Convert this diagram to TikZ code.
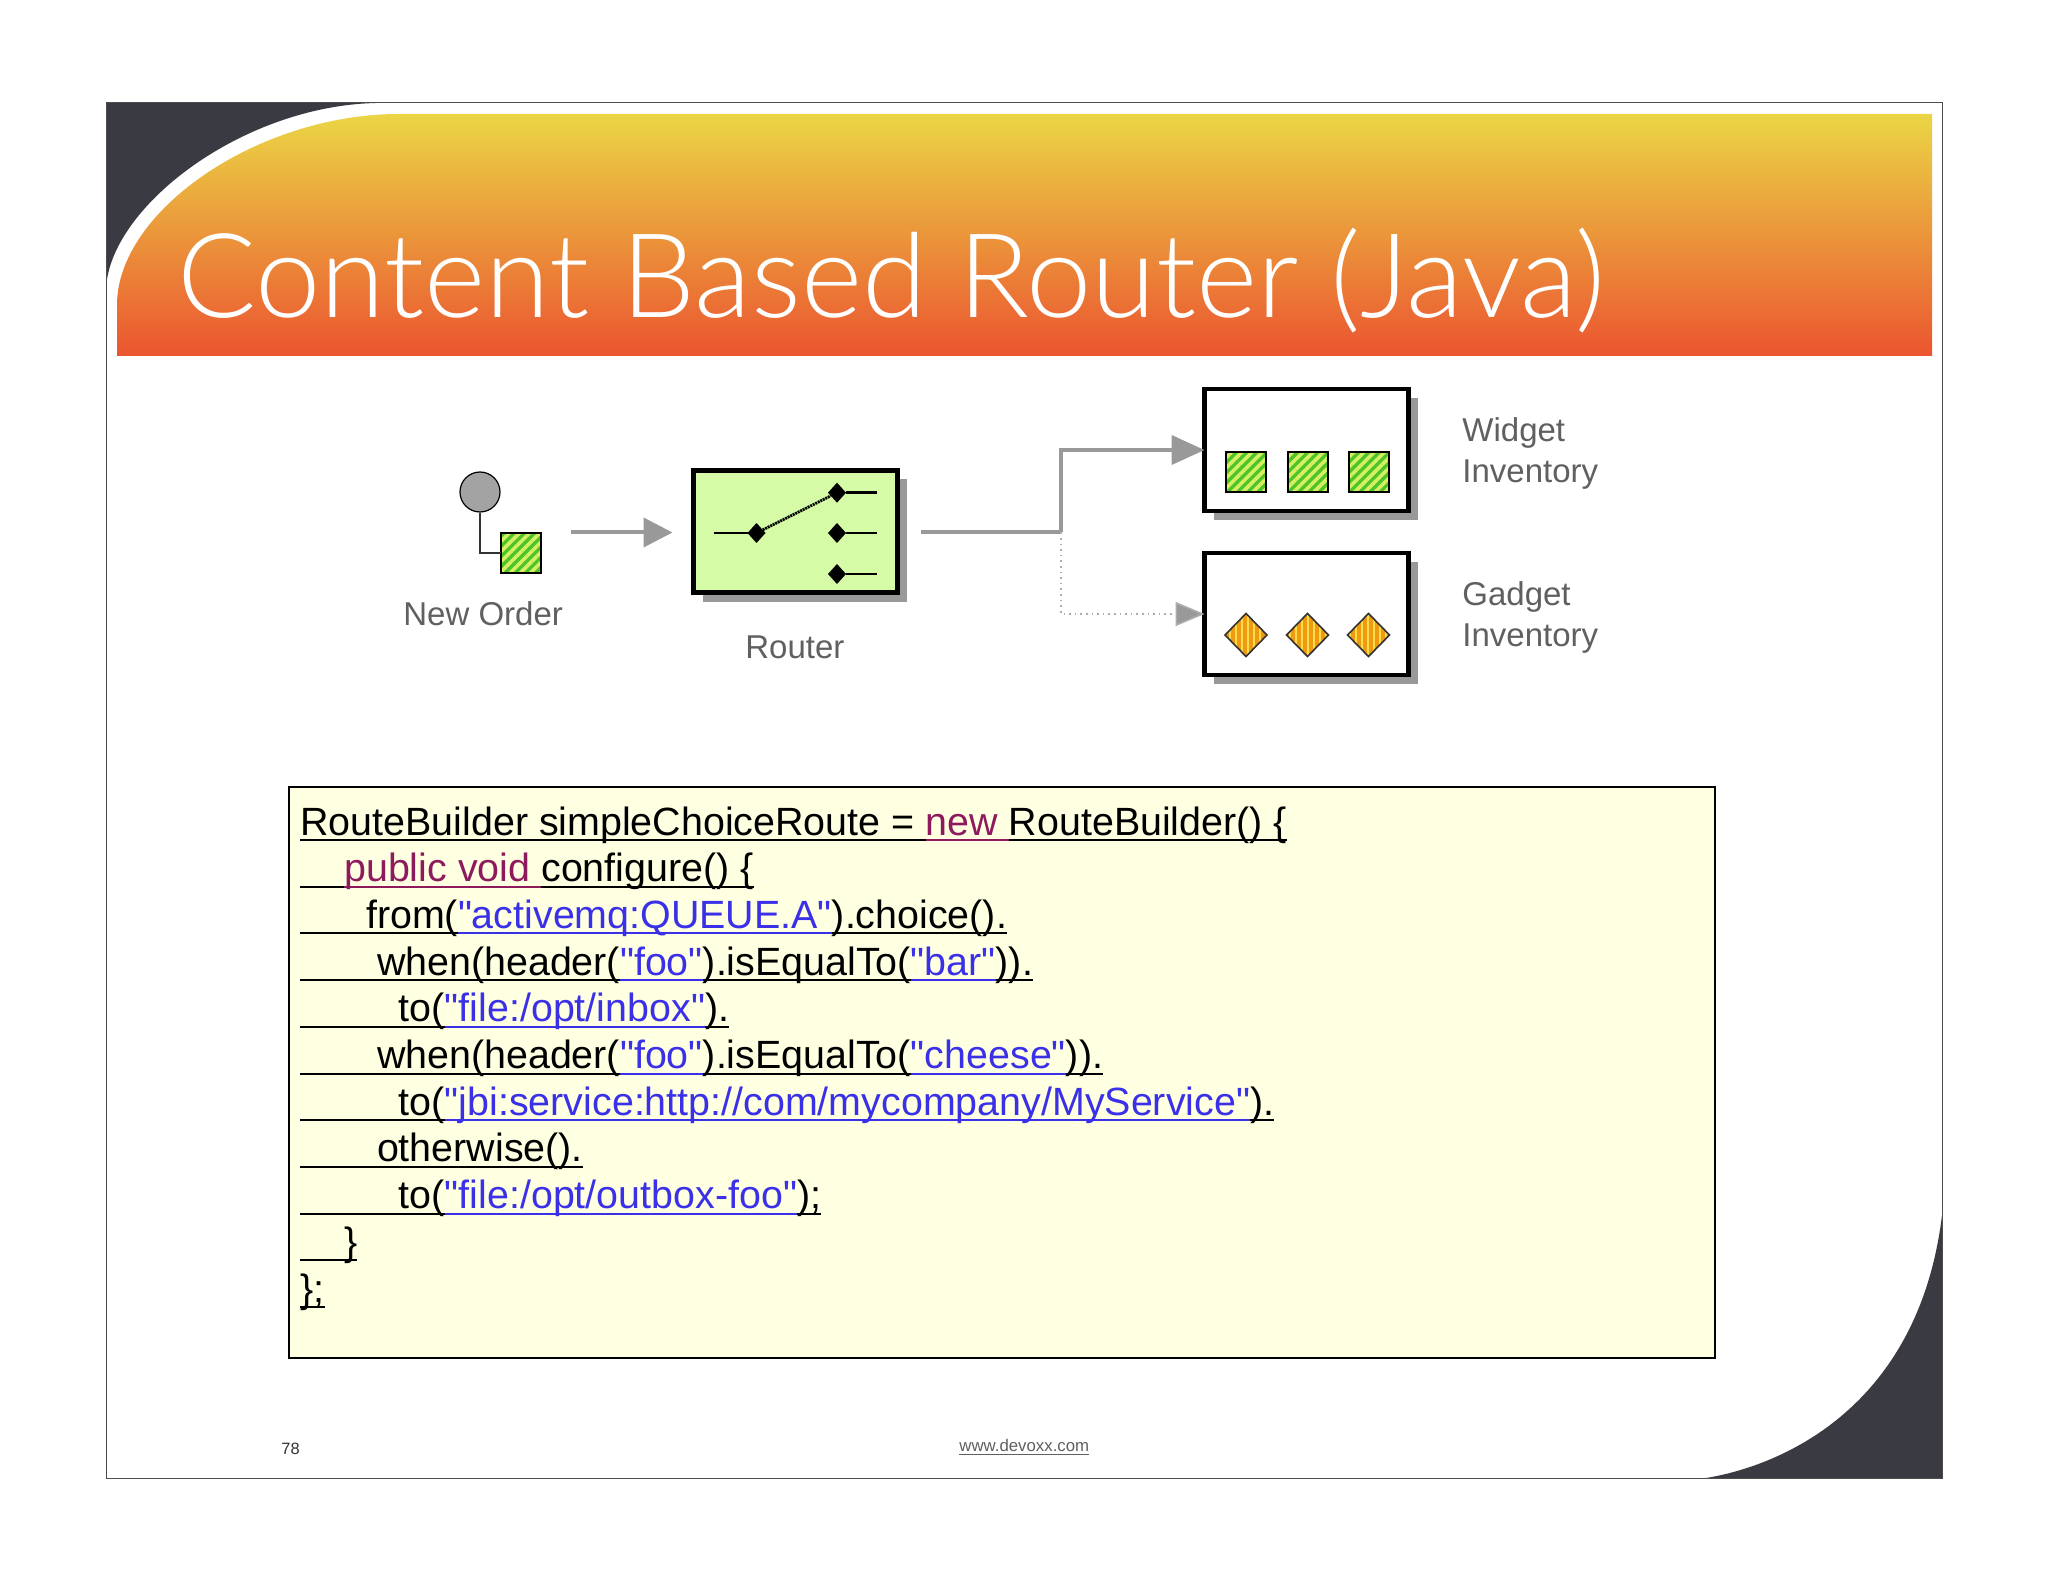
\documentclass[tikz,border=0pt]{standalone}
\usepackage{xcolor}
\usepackage{fontspec}
\setmainfont{Liberation Sans}
\newfontfamily\titlefont{Lato Light}
\newfontfamily\codefont{Liberation Sans}
\usepackage{tikz}
\usetikzlibrary{arrows.meta, calc, shadows, patterns.meta, shapes.geometric}

\definecolor{DarkCorner}{HTML}{3A3A42}
\definecolor{BandTop}{HTML}{EBD545}
\definecolor{BandBottom}{HTML}{EB5530}
\definecolor{FlowGray}{HTML}{999999}
\definecolor{RouterFill}{HTML}{D5FBA6}
\definecolor{CodeFill}{HTML}{FFFFE2}
\definecolor{KeyColor}{HTML}{8E1A5E}
\definecolor{StringColor}{HTML}{3A30E8}
\definecolor{LabelGray}{HTML}{606060}
\definecolor{LimeA}{HTML}{4CC42C}
\definecolor{LimeB}{HTML}{D8F060}
\definecolor{AmberA}{HTML}{F09A10}
\definecolor{AmberB}{HTML}{FBDC50}

\newcommand{\codeul}[1]{\setbox0=\hbox{#1}\rlap{\vrule width\wd0 height -2pt depth 3pt}\box0}
\newcommand{\codekw}[1]{\textcolor{KeyColor}{\codeul{#1}}}
\newcommand{\codestr}[1]{\textcolor{StringColor}{\codeul{#1}}}
\newcommand{\codeind}[1]{\codeul{\hspace*{#1\fontdimen2\font}}}

\tikzset{
	boxnode/.style={draw=black, line width=2.25pt, rectangle, inner sep=0pt, outer sep=0pt,
		minimum width=102pt, minimum height=61pt,
		drop shadow={shadow xshift=4.5pt, shadow yshift=-4.5pt, fill=FlowGray, opacity=1}},
	widgetitem/.style={draw=black, line width=1pt, rectangle, inner sep=0pt, outer sep=0pt,
		minimum size=20pt, preaction={fill=LimeA},
		pattern={Lines[angle=45, distance=3.6pt, line width=1.8pt]}, pattern color=LimeB},
	gadgetitem/.style={draw=black!80, line width=0.8pt, diamond, inner sep=0pt, outer sep=0pt,
		minimum width=21pt, minimum height=21.5pt, preaction={fill=AmberA},
		pattern={Lines[angle=90, distance=3pt, line width=1.4pt]}, pattern color=AmberB},
	pinnode/.style={fill=black, diamond, inner sep=0pt, outer sep=0pt, minimum width=9pt, minimum height=10pt},
	flow/.style={draw=FlowGray, line width=2pt, -{Triangle[length=14.5pt, width=14.5pt, fill=FlowGray]}},
	label/.style={font=\fontsize{16.5pt}{20pt}\selectfont, text=LabelGray, inner sep=0pt, anchor=base west},
	codeline/.style={font=\codefont\fontsize{19.7pt}{23pt}\selectfont, text=black, inner sep=0pt, anchor=base west},
}

\begin{document}
\begin{tikzpicture}[x=0.5pt, y=-0.5pt]

	\useasboundingbox (0,0) rectangle (2048,1582);
	\fill[white] (0,0) rectangle (2048,1582);

	\fill[DarkCorner] (106,103) -- (376,103) .. controls (240,106) and (106,210) .. (106,292) -- cycle;
	\fill[DarkCorner] (1942,1478) -- (1706,1478) .. controls (1785,1465) and (1919,1405) .. (1942,1215) -- cycle;
	\draw[black!70, line width=0.5pt] (106,103) rectangle (1942,1478);
	\shade[top color=BandTop, bottom color=BandBottom] (117,356) -- (117,305) .. controls (117,212) and (255,116) .. (395,114) -- (1932,114) -- (1932,356) -- cycle;
	\node[font=\titlefont\fontsize{58.6pt}{60pt}\selectfont, text=white, inner sep=0pt, anchor=base west] (title) at (177,318) {Content Based Router (Java)};

	\node[draw=black, fill=FlowGray!90, circle, inner sep=0pt, minimum size=20pt, line width=0.6pt] (order) at (480,492) {};
	\node[widgetitem] (orderitem) at (521,553.5) {};
	\draw[line width=1pt, black!80] (order) |- (orderitem);
	\node[label] (orderlabel) at (403,625) {New Order};

	\node[boxnode, fill=RouterFill] (router) at (795.5,531.5) {};
	\coordinate (routerin) at (571,532.5);
	\coordinate (routerout) at (921,532.5);
	\coordinate (split) at (1061,532.5);
	\node[label] (routerlabel) at (745,658) {Router};

	\node[pinnode] (pinin) at (756.5,533) {};
	\node[pinnode] (pinA) at (837,492.7) {};
	\node[pinnode] (pinB) at (837,533) {};
	\node[pinnode] (pinC) at (837,574) {};
	\coordinate (stubin) at (714,533);
	\coordinate (stubA) at (877,492.7);
	\coordinate (stubB) at (877,533);
	\coordinate (stubC) at (877,574);
	\draw[line width=1.3pt] (stubin) -- (pinin);
	\draw[line width=1.3pt] (pinA) -- (stubA);
	\draw[line width=1.3pt] (pinB) -- (stubB);
	\draw[line width=1.3pt] (pinC) -- (stubC);
	\draw[line width=1.4pt, dash pattern=on 1pt off 0.4pt] (pinin) -- (pinA);

	\node[boxnode, fill=white] (widget) at (1306.5,450) {};
	\node[boxnode, fill=white] (gadget) at (1306.5,614) {};

	\node[widgetitem] (widgetA) at (1246,472) {};
	\node[widgetitem] (widgetB) at (1307.5,472) {};
	\node[widgetitem] (widgetC) at (1368.5,472) {};
	\node[gadgetitem] (gadgetA) at (1246,635) {};
	\node[gadgetitem] (gadgetB) at (1307.5,635) {};
	\node[gadgetitem] (gadgetC) at (1368.5,635) {};

	\draw[flow, shorten >=10.5pt] (routerin) -- (router.west |- routerin);
	\draw[draw=FlowGray, line width=2pt] (routerout) -- (split);
	\draw[draw=FlowGray, line width=2pt, -{Triangle[length=16.5pt, width=14.5pt, fill=FlowGray]}] (split) |- (widget.west);
	\draw[draw=FlowGray!80, line width=0.8pt, dotted, -{Triangle[length=14.5pt, width=12pt, fill=FlowGray]}] (split) |- (gadget.west);

	\node[label] (widgetlabelA) at (1462,442) {Widget};
	\node[label] (widgetlabelB) at (1462,483) {Inventory};
	\node[label] (gadgetlabelA) at (1462,605) {Gadget};
	\node[label] (gadgetlabelB) at (1462,646) {Inventory};

	\node[draw=black, fill=CodeFill, line width=0.8pt, rectangle, inner sep=0pt, anchor=north west, minimum width=713pt, minimum height=285.5pt] (codebox) at (288,786) {};

	\node[codeline] (lineA) at (300,835) {\codeul{RouteBuilder simpleChoiceRoute = }\codekw{new }\codeul{RouteBuilder() \{}};
	\node[codeline] (lineB) at (300,881.7) {\codeind{4}\codekw{public void }\codeul{configure() \{}};
	\node[codeline] (lineC) at (300,928.4) {\codeind{6}\codeul{from(}\codestr{"activemq:QUEUE.A"}\codeul{).choice().}};
	\node[codeline] (lineD) at (300,975.1) {\codeind{7}\codeul{when(header(}\codestr{"foo"}\codeul{).isEqualTo(}\codestr{"bar"}\codeul{)).}};
	\node[codeline] (lineE) at (300,1021.8) {\codeind{9}\codeul{to(}\codestr{"file:/opt/inbox"}\codeul{).}};
	\node[codeline] (lineF) at (300,1068.5) {\codeind{7}\codeul{when(header(}\codestr{"foo"}\codeul{).isEqualTo(}\codestr{"cheese"}\codeul{)).}};
	\node[codeline] (lineG) at (300,1115.2) {\codeind{9}\codeul{to(}\codestr{"jbi:service:http://com/mycompany/MyService"}\codeul{).}};
	\node[codeline] (lineH) at (300,1161.9) {\codeind{7}\codeul{otherwise().}};
	\node[codeline] (lineI) at (300,1208.6) {\codeind{9}\codeul{to(}\codestr{"file:/opt/outbox-foo"}\codeul{);}};
	\node[codeline] (lineJ) at (300,1255.3) {\codeind{4}\codeul{\}}};
	\node[codeline] (lineK) at (300,1302) {\codeul{\};}};

	\node[font=\fontsize{8.2pt}{10pt}\selectfont, text=black!80, inner sep=0pt, anchor=base west] (pagenum) at (281,1454) {78};
	\node[font=\fontsize{8.4pt}{10pt}\selectfont, text=LabelGray, inner sep=0pt, anchor=base west] (footer) at (959,1451) {\underline{www.devoxx.com}};

\end{tikzpicture}
\end{document}
